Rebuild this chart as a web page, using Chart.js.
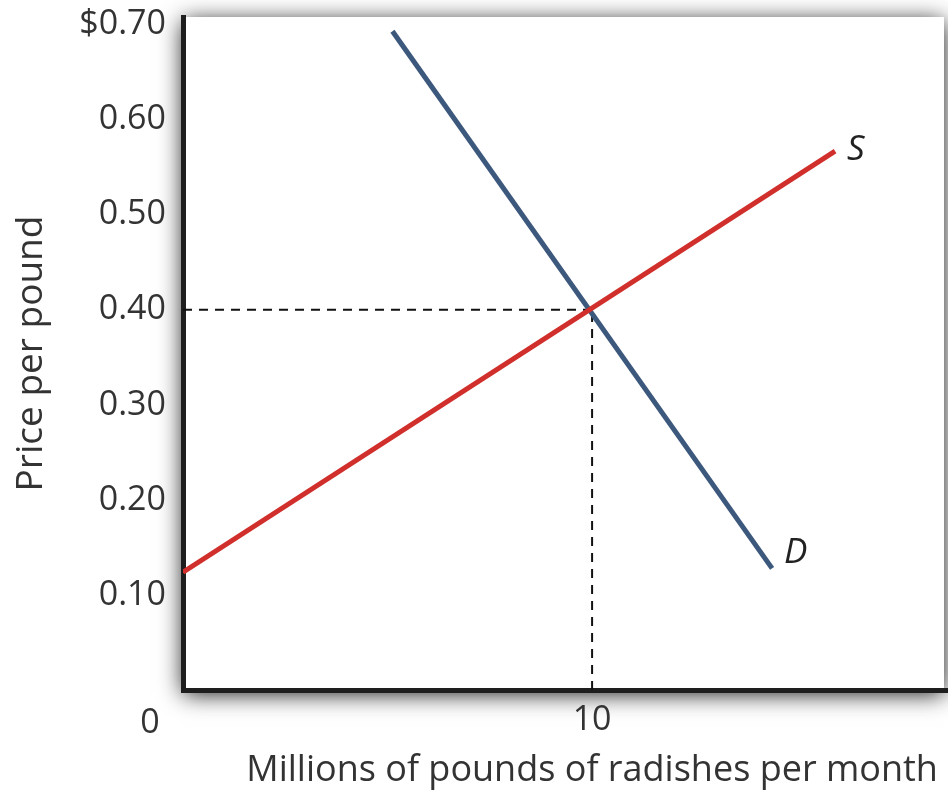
<!DOCTYPE html>
<html>
<head>
<meta charset="utf-8">
<script src="https://cdn.jsdelivr.net/npm/chart.js@4"></script>
<style>
  html, body { margin: 0; padding: 0; background: #fff; }
  #wrap { width: 948px; height: 792px; position: relative; }
</style>
</head>
<body>
<div id="wrap"><canvas id="supplyDemand"></canvas></div>
<script>
// quantity in millions of pounds, price in $ per pound
var demandQty = [5.12, 14.4]
var demandPrice = [0.693, 0.128]
var supplyQty = [0, 15.94]
var supplyPrice = [0.124, 0.567]
var eqQty = 10
var eqPrice = 0.40

var yTicks = [0.1, 0.2, 0.3, 0.4, 0.5, 0.6, 0.7]
var xTicks = [10]
var xTitle = 'Millions of pounds of radishes per month'

var FONT = "'Open Sans', 'Noto Sans', sans-serif"

function toPoints(xs, ys) {
  return xs.map(function (x, i) { return { x: x, y: ys[i] } })
}

// white plot box with a soft drop shadow
var boxShadow = {
  id: 'boxShadow',
  beforeDraw: function (chart) {
    var a = chart.chartArea, ctx = chart.ctx
    ctx.save()
    ctx.shadowColor = 'rgba(0,0,0,0.9)'
    ctx.shadowBlur = 22
    ctx.shadowOffsetX = 0
    ctx.shadowOffsetY = 4
    ctx.fillStyle = '#ffffff'
    ctx.fillRect(a.left, a.top, a.right - a.left - 4, a.bottom - a.top)
    ctx.restore()
  }
}

// curve labels, the origin "0" and the quantity title
var curveLabels = {
  id: 'curveLabels',
  afterDraw: function (chart) {
    var x = chart.scales.x, y = chart.scales.y, ctx = chart.ctx
    ctx.save()
    ctx.fillStyle = '#222'
    ctx.font = 'italic 35px ' + FONT
    ctx.textBaseline = 'middle'
    ctx.textAlign = 'left'
    var sIdx = supplyQty.length - 1
    ctx.fillText('S', x.getPixelForValue(supplyQty[sIdx]) + 12, y.getPixelForValue(supplyPrice[sIdx]) - 1)
    var dIdx = demandQty.length - 1
    ctx.fillText('D', x.getPixelForValue(demandQty[dIdx]) + 12, y.getPixelForValue(demandPrice[dIdx]) - 15)

    ctx.font = '34px ' + FONT
    ctx.fillStyle = '#333'
    ctx.textAlign = 'center'
    ctx.fillText('0', x.getPixelForValue(0) - 33, y.getPixelForValue(0) + 33)
    ctx.font = '36px ' + FONT
    ctx.fillText(xTitle, x.getPixelForValue(eqQty), y.getPixelForValue(0) + 81)
    ctx.restore()
  }
}

new Chart(document.getElementById('supplyDemand').getContext('2d'), {
  type: 'scatter',
  data: {
    datasets: [
      {
        label: 'Demand',
        data: toPoints(demandQty, demandPrice),
        showLine: true,
        borderColor: '#3d587d',
        borderWidth: 5,
        pointRadius: 0,
        order: 1
      },
      {
        label: 'Supply',
        data: toPoints(supplyQty, supplyPrice),
        showLine: true,
        borderColor: '#d02f2c',
        borderWidth: 5,
        pointRadius: 0,
        order: 0
      },
      {
        label: 'eq price',
        data: [{ x: 0, y: eqPrice }, { x: eqQty, y: eqPrice }],
        showLine: true,
        borderColor: '#111',
        borderWidth: 2,
        borderDash: [9, 7],
        pointRadius: 0,
        order: 2
      },
      {
        label: 'eq quantity',
        data: [{ x: eqQty, y: 0 }, { x: eqQty, y: eqPrice }],
        showLine: true,
        borderColor: '#111',
        borderWidth: 2,
        borderDash: [9, 7],
        pointRadius: 0,
        order: 2
      }
    ]
  },
  options: {
    responsive: true,
    maintainAspectRatio: false,
    animation: false,
    layout: { padding: { top: 17, right: 0, left: 0, bottom: 0 } },
    plugins: {
      legend: { display: false },
      tooltip: { enabled: false }
    },
    scales: {
      x: {
        type: 'linear',
        min: 0,
        max: 18.7,
        grid: { display: false, drawTicks: false },
        border: { display: true, color: '#1e1e1e', width: 5 },
        afterBuildTicks: function (scale) {
          scale.ticks = xTicks.map(function (v) { return { value: v } })
        },
        afterFit: function (scale) {
          scale.height = 102
          scale.paddingLeft = 0
          scale.paddingRight = 0
        },
        ticks: {
          padding: 10,
          color: '#333',
          font: { family: FONT, size: 34 },
          maxRotation: 0,
          callback: function (v) { return String(v) }
        }
      },
      y: {
        type: 'linear',
        min: 0,
        max: 0.708,
        grid: { display: false, drawTicks: false },
        border: { display: true, color: '#1e1e1e', width: 5 },
        afterBuildTicks: function (scale) {
          scale.ticks = yTicks.map(function (v) { return { value: v } })
        },
        afterFit: function (scale) {
          scale.width = 183
          scale.paddingTop = 0
          scale.paddingBottom = 0
        },
        ticks: {
          padding: 17,
          color: '#333',
          font: { family: FONT, size: 34 },
          callback: function (v) {
            var s = Number(v).toFixed(2)
            return Math.abs(v - 0.7) < 1e-6 ? '$' + s : s
          }
        },
        title: {
          display: true,
          text: 'Price per pound',
          color: '#333',
          font: { family: FONT, size: 37 },
          padding: { top: 9, bottom: 0 }
        }
      }
    }
  },
  plugins: [boxShadow, curveLabels]
})
</script>
</body>
</html>
